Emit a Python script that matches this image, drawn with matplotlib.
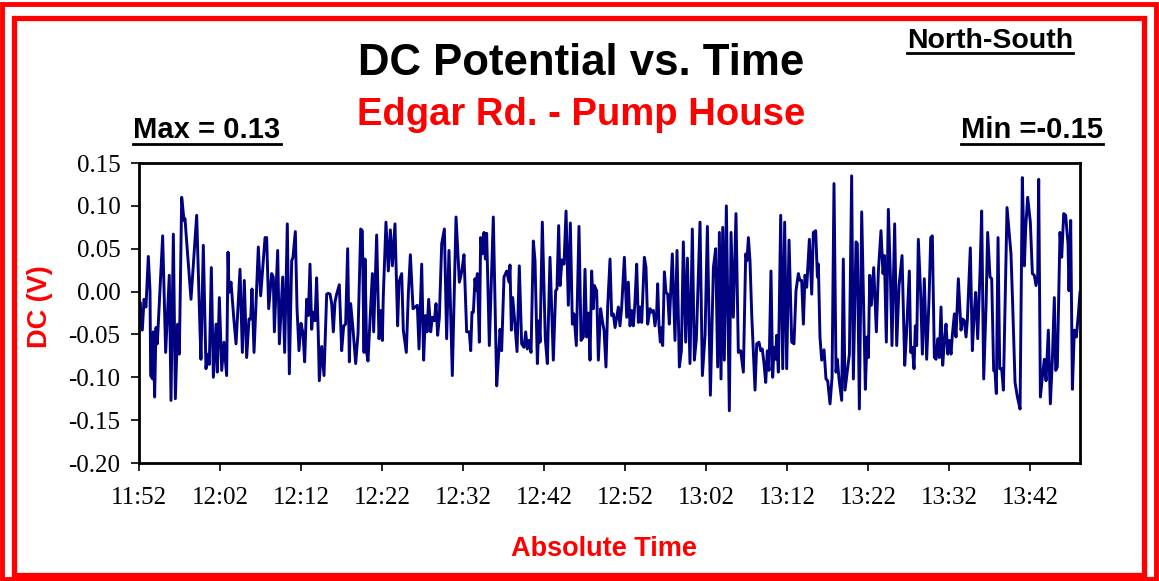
import matplotlib
matplotlib.use("Agg")
import matplotlib.pyplot as plt
from matplotlib.patches import Rectangle
from matplotlib.lines import Line2D

# ---- data: minutes after 11:52, DC potential (V) ----
minutes = [
    0.0, 0.12, 0.41, 0.62, 0.86, 1.15, 1.36, 1.44, 1.69, 1.77, 1.93, 2.10, 2.26, 2.92, 3.29, 3.74, 3.95,
    4.24, 4.49, 4.77, 4.98, 5.27, 5.56, 5.68, 5.80, 6.42, 7.12, 7.53, 7.65, 7.94, 8.27, 8.44, 8.68, 8.93,
    9.18, 9.51, 9.67, 9.92, 10.21, 10.49, 10.82, 10.99, 11.11, 11.36, 11.69, 11.98, 12.47, 12.76, 13.00,
    13.29, 13.58, 13.79, 13.95, 14.20, 14.73, 15.02, 15.56, 15.76, 16.01, 16.38, 16.58, 16.71, 17.12,
    17.33, 17.74, 17.98, 18.31, 18.56,
    18.85, 19.01, 19.30, 19.51, 19.75, 20.00, 20.25, 20.45, 20.70, 20.91, 21.11, 21.32, 21.48, 21.73,
    21.93, 22.14, 22.26, 22.55, 22.84, 23.17, 23.37, 23.58, 23.79, 23.99, 24.20, 24.40, 24.73, 25.02,
    25.27, 25.51, 25.76, 25.97, 26.13, 26.42, 26.75, 27.04, 27.37, 27.57, 27.78, 27.90, 28.11, 28.27,
    28.81, 28.97, 29.34, 29.63, 29.88, 30.04, 30.16, 30.49, 30.78, 31.03, 31.28, 31.60, 31.93, 32.10,
    32.43, 32.63, 33.00, 33.25, 33.50, 33.83, 34.36, 34.57, 34.90, 35.14, 35.35, 35.56, 35.76, 36.01,
    36.21, 36.46, 36.67, 36.87, 37.08, 37.37, 37.70,
    37.98, 38.27, 38.68, 39.14, 39.55, 39.71, 39.88, 40.12, 40.45, 40.78, 40.95, 41.11, 41.28, 41.48,
    41.60, 41.77, 42.02, 42.18, 42.39, 42.59, 42.76, 42.92, 43.25, 43.74, 44.16, 44.40, 44.57, 44.77,
    45.06, 45.39, 45.68, 45.80, 45.97, 46.13, 46.38, 46.67, 46.95, 47.24, 47.53, 47.74, 47.94, 48.15,
    48.40, 48.68, 48.89, 49.18, 49.38, 49.51, 49.79, 50.16, 50.41, 50.74, 51.15, 51.44, 51.60, 51.81,
    51.98, 52.22, 52.47, 52.72, 53.00, 53.25, 53.50, 53.70, 53.99, 54.32, 54.57, 54.86, 55.06, 55.27,
    55.51, 55.68, 55.88, 56.09, 56.21, 56.50, 56.71,
    56.99, 57.20, 57.41, 57.65, 57.86, 58.15, 58.35, 58.56, 58.77, 58.97, 59.18, 59.38, 59.59, 59.92,
    60.21, 60.41, 60.62, 60.82, 61.03, 61.23, 61.44, 61.65, 61.85, 62.06, 62.39, 62.59, 62.80, 63.09,
    63.29, 63.50, 63.70, 63.91, 64.03, 64.20, 64.36, 64.53, 64.65, 64.86, 65.06, 65.27, 65.47, 65.84,
    66.17, 66.42, 66.71, 66.96, 67.20, 67.49, 67.70, 68.02, 68.31, 68.56, 68.81, 69.26, 69.55, 69.88,
    70.17, 70.54, 70.91, 71.19, 71.44, 71.65, 71.85, 72.06, 72.26, 72.51, 72.88, 73.09, 73.37, 73.70,
    73.99, 74.28, 74.61, 74.90, 75.06, 75.23, 75.43, 75.64, 76.05,
    76.26, 76.54, 76.75, 76.95, 77.16, 77.37, 77.57, 77.78, 78.02, 78.23, 78.40, 78.60, 78.72, 78.93,
    79.22, 79.47, 79.71, 79.96, 80.25, 80.58, 80.86, 81.11, 81.40, 81.60, 81.81, 82.02, 82.22, 82.43,
    82.76, 83.05, 83.25, 83.54, 83.75, 83.87, 84.07, 84.28, 84.57, 84.81, 85.02, 85.31, 85.56, 85.80,
    86.05, 86.21, 86.42, 86.75, 86.95, 87.16, 87.45, 87.70, 87.98, 88.19, 88.52, 88.68, 88.93, 89.22,
    89.67, 89.88, 90.04, 90.21, 90.41, 90.70, 91.03, 91.28, 91.60, 91.85, 92.02, 92.26, 92.51, 92.76,
    92.96, 93.29, 93.54, 93.83, 94.20, 94.53, 94.73, 95.10,
    95.27, 95.47, 95.68, 95.84, 96.01, 96.21, 96.50, 96.71, 96.95, 97.24, 97.53, 97.74, 97.94, 98.19,
    98.40, 98.60, 98.81, 99.01, 99.22, 99.42, 99.63, 99.84, 100.04, 100.25, 100.41, 100.66, 100.86,
    101.15, 101.48, 101.69, 101.89, 102.10, 102.26, 102.63, 102.88, 103.09, 103.29, 103.54, 103.83,
    104.03, 104.28, 104.57, 104.77, 105.06, 105.27, 105.51, 105.68, 105.84, 106.05, 106.26, 106.50,
    106.71, 107.16, 107.65, 107.86, 108.15, 108.44, 108.77, 109.05, 109.30, 109.47, 109.71, 110.04,
    110.29, 110.53, 110.74, 110.95, 111.07, 111.28, 111.56, 111.77, 111.98, 112.26, 112.51, 112.76,
    113.00, 113.17, 113.37, 113.70, 113.91, 114.16, 114.40, 114.69, 114.81, 115.02, 115.23, 115.47,
    115.72, 115.97, 116.17,
]
dc_volts = [
    -0.030, -0.012, -0.045, -0.009, -0.018, 0.041, 0.001, -0.098, -0.102, -0.047, -0.123, -0.042, -0.061,
    0.065, -0.071, 0.019, -0.127, 0.067, -0.125, -0.038, -0.073, 0.110, 0.083, 0.085, 0.069, -0.009,
    0.089, -0.045, -0.079, 0.054, -0.090, -0.073, -0.085, 0.028, -0.100, -0.038, -0.094, -0.007, -0.092,
    -0.059, -0.098, 0.046, -0.001, 0.011, -0.030, -0.061, 0.026, -0.071, 0.013, -0.077, -0.032, -0.032,
    0.003, -0.071, 0.052, -0.005, 0.063, 0.063, -0.020, 0.021, 0.017, -0.047, 0.048, -0.061, 0.017,
    -0.071, 0.079, -0.096,
    0.036, 0.040, 0.070, -0.020, -0.069, -0.037, -0.049, -0.082, -0.009, -0.028, 0.032, -0.044, -0.024,
    -0.034, 0.016, -0.053, -0.104, -0.064, -0.098, -0.003, -0.002, -0.003, -0.014, -0.047, -0.012,
    -0.003, 0.008, -0.069, -0.040, -0.038, 0.050, -0.082, -0.014, -0.044, -0.084, -0.049, 0.073, 0.071,
    -0.071, 0.038, -0.071, -0.081, 0.021, -0.047, 0.066, -0.055, -0.022, -0.057, -0.005, 0.081, 0.024,
    0.072, 0.030, 0.079, -0.040, 0.011, 0.021, -0.045, -0.071, -0.003, 0.043, -0.020, -0.016, -0.067,
    0.032, -0.080, -0.028, -0.047, -0.009, -0.047, -0.030, -0.034, -0.014, -0.051, -0.030, 0.056, 0.073,
    -0.055, 0.048, -0.098, 0.087, 0.011, 0.017, 0.026, 0.043, -0.047, -0.047, -0.069, -0.024, -0.024,
    0.015, 0.001, 0.021, -0.059, 0.063, 0.044, 0.069, 0.038, 0.068, -0.063, 0.087, -0.110, -0.073,
    -0.044, -0.069, 0.017, 0.024, 0.011, 0.031, -0.045, -0.007, -0.034, -0.070, 0.030, -0.061, -0.065,
    -0.047, -0.067, -0.057, -0.071, 0.059, 0.036, -0.084, -0.034, -0.059, 0.081, -0.055, -0.084, 0.040,
    -0.080, 0.001, 0.003, 0.077, 0.007, 0.037, 0.032, 0.094, -0.016, 0.080, -0.038, -0.026, -0.063,
    0.076, -0.057, -0.053, 0.026, -0.053, -0.025, -0.080, 0.024, -0.020, 0.007, 0.001, -0.080,
    -0.020, -0.034, -0.045, -0.088, -0.018, 0.038, -0.028, -0.026, -0.042, -0.030, -0.018, -0.040,
    -0.018, 0.040, -0.030, 0.011, -0.040, -0.022, -0.040, -0.012, 0.032, -0.036, -0.018, -0.036, 0.040,
    0.028, -0.038, -0.020, -0.024, -0.022, -0.040, -0.024, 0.009, -0.040, -0.059, -0.042, -0.063, 0.023,
    -0.001, -0.003, -0.038, 0.044, -0.057, 0.048, -0.088, -0.069, 0.058, -0.059, 0.039, -0.084, 0.073,
    -0.080, -0.055, 0.081, -0.098, -0.051, 0.076, -0.121, 0.028, 0.050, -0.088, 0.069, -0.102, 0.075,
    -0.080, 0.100, -0.139, 0.069, -0.030, 0.091, -0.071, -0.069, -0.094, 0.044, 0.036, 0.063, 0.036,
    -0.026, -0.115,
    -0.061, -0.059, -0.069, -0.067, -0.084, -0.106, -0.069, -0.092, 0.024, -0.100, -0.065, -0.079,
    -0.051, -0.094, 0.089, -0.090, 0.081, -0.090, 0.060, -0.059, -0.061, 0.001, 0.021, 0.013, 0.013,
    -0.038, 0.019, 0.005, 0.061, -0.003, 0.069, 0.071, 0.017, 0.032, -0.053, -0.080, -0.068, -0.102,
    -0.104, -0.131, -0.100, 0.126, -0.094, -0.079, -0.102, -0.127, 0.038, -0.115, -0.092, -0.073, 0.135,
    -0.102, 0.058, 0.056, -0.137, 0.093, -0.114, -0.053, -0.077, 0.019, -0.016, 0.028, -0.047, 0.024,
    0.071, 0.021, 0.042, -0.059, 0.096, 0.019, -0.063, 0.079, -0.063, 0.007, 0.042, -0.086, -0.053,
    0.024,
    -0.071, -0.065, -0.090, -0.040, -0.063, 0.061, -0.003, -0.073, 0.015, -0.079, -0.010, 0.063, 0.065,
    -0.077, -0.079, -0.055, -0.077, -0.018, -0.086, -0.059, -0.038, -0.073, -0.057, -0.073, -0.051,
    -0.026, -0.053, 0.015, -0.045, -0.032, -0.034, -0.053, -0.034, 0.051, -0.069, -0.028, -0.001, -0.055,
    0.024, 0.094, -0.102, -0.018, 0.069, 0.017, 0.015, -0.092, -0.094, -0.119, 0.063, -0.090, -0.090,
    -0.115, 0.098, 0.044, -0.016, -0.106, -0.123, -0.137, 0.133, 0.030, 0.075, 0.110, 0.081, 0.021,
    0.019, 0.007, 0.019, 0.131, -0.123, -0.096, -0.079, -0.104, -0.045, -0.131, -0.079, -0.007, -0.092,
    -0.088, 0.069, 0.040, 0.091, 0.089, 0.056, 0.001, 0.083, -0.114, -0.045, -0.053, -0.026, -0.001,
]
tick_minutes = [0, 10, 20, 30, 40, 50, 60, 70, 80, 90, 100, 110]
tick_labels = ["11:52", "12:02", "12:12", "12:22", "12:32", "12:42",
               "12:52", "13:02", "13:12", "13:22", "13:32", "13:42"]
y_ticks = [0.15, 0.10, 0.05, 0.00, -0.05, -0.10, -0.15, -0.20]

W, H = 1159, 581
fig = plt.figure(figsize=(W / 100, H / 100), dpi=100)
fig.patch.set_facecolor("white")


def fx(px):
    return px / W


def fy(py):
    return 1 - py / H


SANS = "Liberation Sans"

ax = fig.add_axes([fx(139), fy(463), fx(1080) - fx(139), fy(163) - fy(463)])
ax.plot(minutes, dc_volts, color="#000080", lw=2.1)
ax.set_xlim(0, 116.17)
ax.set_ylim(-0.20, 0.15)
ax.set_yticks(y_ticks)
ax.set_yticklabels([f"{v:.2f}" for v in y_ticks])
ax.set_xticks(tick_minutes)
ax.set_xticklabels(tick_labels)
for sp in ax.spines.values():
    sp.set_linewidth(2.0)
    sp.set_color("black")
ax.tick_params(direction="out", length=5.5, width=1.2, labelsize=18)
ax.tick_params(axis="y", pad=8)
ax.tick_params(axis="x", pad=12)
for lbl in ax.get_xticklabels() + ax.get_yticklabels():
    lbl.set_fontfamily("Liberation Serif")

fig.text(fx(40), fy(307), "DC (V)", rotation=90, ha="center", va="center",
         color="red", fontsize=19.5, fontweight="bold", family=SANS)
fig.text(fx(604), fy(556), "Absolute Time", ha="center", va="baseline",
         color="red", fontsize=19.5, fontweight="bold", family=SANS)

fig.text(fx(581), fy(75), "DC Potential vs. Time", ha="center", va="baseline",
         color="black", fontsize=31.5, fontweight="bold", family=SANS)
fig.text(fx(581), fy(125), "Edgar Rd. - Pump House", ha="center", va="baseline",
         color="red", fontsize=27.5, fontweight="bold", family=SANS)

underlined = [
    (fig.text(fx(990), fy(48), "North-South", ha="center", va="baseline",
              color="black", fontsize=20.5, fontweight="bold", family=SANS), 53),
    (fig.text(fx(207), fy(138), "Max = 0.13", ha="center", va="baseline",
              color="black", fontsize=21, fontweight="bold", family=SANS), 143.5),
    (fig.text(fx(1032), fy(138), "Min =-0.15", ha="center", va="baseline",
              color="black", fontsize=21, fontweight="bold", family=SANS), 143.5),
]
fig.canvas.draw()
r = fig.canvas.get_renderer()
for t, ypx in underlined:
    bb = t.get_window_extent(r)
    fig.add_artist(Line2D([bb.x0 / W, bb.x1 / W], [fy(ypx), fy(ypx)],
                          transform=fig.transFigure, color="black", lw=2.0))

# red double border
fig.add_artist(Rectangle((fx(2), fy(579)), fx(1156) - fx(2), fy(4) - fy(579),
                         transform=fig.transFigure, fill=False, edgecolor="red", lw=3.5))
fig.add_artist(Rectangle((fx(14), fy(574.5)), fx(1143.5) - fx(14), fy(17.5) - fy(574.5),
                         transform=fig.transFigure, fill=False, edgecolor="red", lw=3.8))

fig.savefig("out.png", dpi=100)
